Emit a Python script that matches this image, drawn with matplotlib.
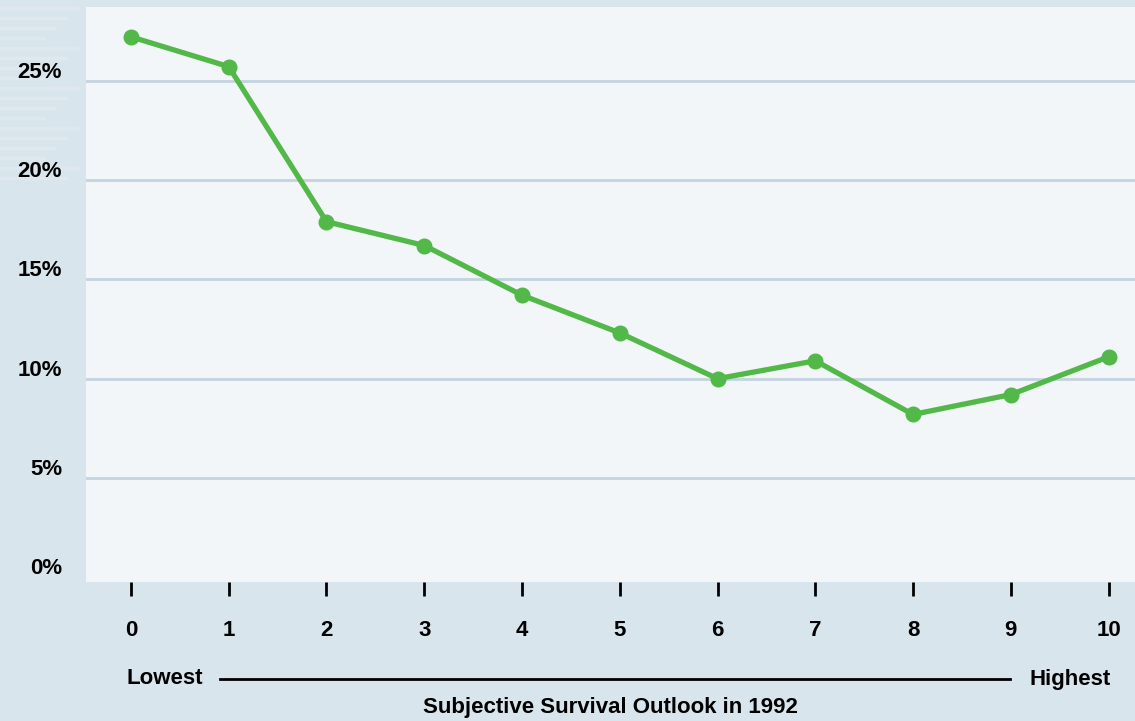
import matplotlib.pyplot as plt
from matplotlib.lines import Line2D

# subjective survival outlook scores and share (%)
outlook = [0, 1, 2, 3, 4, 5, 6, 7, 8, 9, 10]
share = [27.2, 25.7, 17.9, 16.7, 14.2, 12.3, 10.0, 10.9, 8.2, 9.2, 11.1]
y_ticks = [0, 5, 10, 15, 20, 25]
y_labels = ['0%', '5%', '10%', '15%', '20%', '25%']

outer_bg = '#d9e5ec'
inner_bg = '#f2f6f9'
grid_col = '#c3d3df'
green = '#52b848'
font = 'Liberation Sans'

fig = plt.figure(figsize=(11.35, 7.21), dpi=100, facecolor=outer_bg)
ax = fig.add_axes([86 / 1135, 139 / 721, 1 - 86 / 1135, 575 / 721])
ax.set_facecolor(inner_bg)

# faint stripes in the left margin
for i in range(18):
    yy = 1 - (8 + i * 10) / 721
    fig.add_artist(Line2D([0.0, 0.068 - (i % 4) * 0.01], [yy, yy],
                          transform=fig.transFigure, color='#dee8ee', lw=2.5))

ax.set_xlim(-0.46, 10.27)
ax.set_ylim(-0.23, 28.7)

for v in y_ticks[1:]:
    ax.axhline(v, color=grid_col, lw=2, zorder=1)

ax.plot(outlook, share, color=green, lw=3.8, marker='o', markersize=10.5,
        solid_capstyle='round', zorder=3)

for s in ax.spines.values():
    s.set_visible(False)

ax.set_yticks([])
ax.set_xticks(outlook)
ax.set_xticklabels([str(o) for o in outlook], fontsize=16, fontweight='bold',
                   family=font)
ax.tick_params(axis='x', length=10, width=2, color='black', pad=17)

for v, lab in zip(y_ticks, y_labels):
    fig.text(62 / 1135, ax.transData.transform((0, v))[1] / 721 - 2 / 721, lab,
             ha='right', va='bottom', fontsize=16, fontweight='bold', family=font)

fig.text(126 / 1135, 1 - 679 / 721, 'Lowest', ha='left', va='center',
         fontsize=16, fontweight='bold', family=font)
fig.text(1111 / 1135, 1 - 679 / 721, 'Highest', ha='right', va='center',
         fontsize=16, fontweight='bold', family=font)
fig.add_artist(Line2D([220 / 1135, 1010 / 1135], [1 - 679 / 721, 1 - 679 / 721],
                      transform=fig.transFigure, color='black', lw=2))
fig.text(610 / 1135, 1 - 708 / 721, 'Subjective Survival Outlook in 1992',
         ha='center', va='center', fontsize=16, fontweight='bold', family=font)

fig.savefig('out.png', dpi=100, facecolor=outer_bg)
